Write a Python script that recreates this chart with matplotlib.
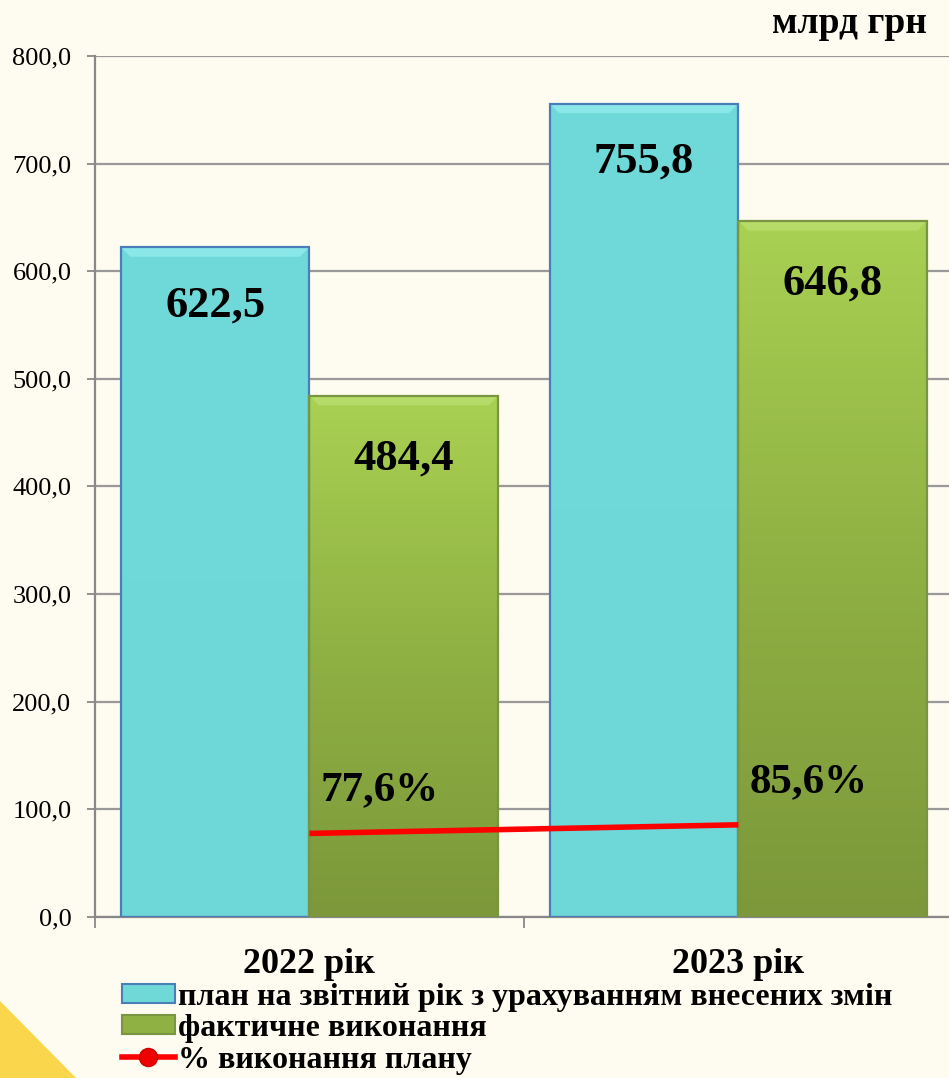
import numpy as np
import matplotlib.pyplot as plt
from matplotlib.patches import Polygon, Rectangle
from matplotlib.lines import Line2D
from matplotlib.colors import LinearSegmentedColormap

# data
years = ['2022 рік', '2023 рік']
plan = [622.5, 755.8]
fact = [484.4, 646.8]
pct = [77.6, 85.6]
plan_labels = ['622,5', '755,8']
fact_labels = ['484,4', '646,8']
pct_labels = ['77,6%', '85,6%']
y_ticks = [0, 100, 200, 300, 400, 500, 600, 700, 800]
legend_labels = ['план на звітний рік з урахуванням внесених змін',
                 'фактичне виконання',
                 '% виконання плану']

bg = '#fefbf0'
plt.rcParams['font.family'] = ['Liberation Serif', 'DejaVu Serif']

fig = plt.figure(figsize=(9.49, 10.78), dpi=100, facecolor=bg)
ax = fig.add_axes([0.1001, 0.1494, 0.904, 0.7987], facecolor=bg)

x = np.arange(len(years))
w = 0.44

cyan_cmap = LinearSegmentedColormap.from_list('c', ['#6dd8d7', '#6fdad9'])
green_cmap = LinearSegmentedColormap.from_list('g', ['#7c983a', '#8fb043', '#a9d152'])


def draw_bars(xs, vals, cmap, edge, bevel):
    bars = ax.bar(xs, vals, w, color='none', edgecolor=edge, linewidth=1.6, zorder=3)
    for b in bars:
        x0, y0 = b.get_x(), b.get_y()
        bw, bh = b.get_width(), b.get_height()
        grad = np.linspace(0, 1, 256).reshape(-1, 1)
        im = ax.imshow(grad, cmap=cmap, origin='lower', aspect='auto',
                       extent=[x0, x0 + bw, y0, y0 + bh], zorder=2)
        clip = Rectangle((x0, y0), bw, bh, transform=ax.transData)
        im.set_clip_path(clip)
        # top bevel
        dx, dy = 0.022, 9.0
        ax.add_patch(Polygon([(x0, bh), (x0 + bw, bh), (x0 + bw - dx, bh - dy), (x0 + dx, bh - dy)],
                             closed=True, facecolor=bevel, edgecolor='none', alpha=0.6, zorder=2.5))
    return bars


draw_bars(x - w / 2, plan, cyan_cmap, '#4a7ebb', '#9ff3f3')
draw_bars(x + w / 2, fact, green_cmap, '#7a953f', '#c2e478')

ax.plot(x, pct, color='#ff0000', lw=4, zorder=4, solid_capstyle='butt')

for i in range(len(years)):
    ax.annotate(plan_labels[i], (x[i] - w / 2, plan[i]), xytext=(0, -42), textcoords='offset points',
                ha='center', va='center', fontsize=32, fontweight='bold', zorder=5)
    ax.annotate(fact_labels[i], (x[i] + w / 2, fact[i]), xytext=(0, -45), textcoords='offset points',
                ha='center', va='center', fontsize=32, fontweight='bold', zorder=5)
    ax.annotate(pct_labels[i], (x[i], pct[i]), xytext=(8, 31), textcoords='offset points',
                ha='left', va='center', fontsize=31, fontweight='bold', zorder=5)

ax.set_xlim(-0.5, 1.5)
ax.set_ylim(0, 800)
ax.set_yticks(y_ticks)
ax.set_yticklabels([f'{v:.1f}'.replace('.', ',') for v in y_ticks], fontsize=19)
ax.yaxis.grid(True, color='#999999', lw=1.6, zorder=0)
ax.set_axisbelow(True)
ax.tick_params(axis='y', length=6, width=1.3, color='#888888', pad=11)

ax.set_xticks(x)
ax.set_xticklabels(years, fontsize=26, fontweight='bold')
ax.set_xticks([-0.5, 0.5, 1.5], minor=True)
ax.tick_params(axis='x', which='major', length=0, pad=22)
ax.tick_params(axis='x', which='minor', length=8, width=1.3, color='#888888', direction='out')

for s in ['top', 'right']:
    ax.spines[s].set_visible(False)
for s in ['left', 'bottom']:
    ax.spines[s].set_color('#888888')
    ax.spines[s].set_linewidth(1.6)

fig.text(0.977, 0.978, 'млрд грн', ha='right', va='center', fontsize=27, fontweight='bold')

# legend
handles = [Rectangle((0, 0), 1, 1, facecolor='#6fd9d8', edgecolor='#4a7ebb', lw=1.5),
           Rectangle((0, 0), 1, 1, facecolor='#8fb043', edgecolor='#7a953f', lw=1.5),
           Line2D([], [], color='#ff0000', lw=4, marker='o', markersize=13,
                  markerfacecolor='#ee0000', markeredgecolor='#cc0000')]
fig.legend(handles, legend_labels, loc='upper left', bbox_to_anchor=(0.1286, 0.0885),
           frameon=False, prop={'size': 23, 'weight': 'bold'}, handlelength=1.65,
           handleheight=0.55, handletextpad=0.1, labelspacing=0.08, borderpad=0, borderaxespad=0)

# yellow corner
fig.patches.append(Polygon([(0, 0), (76 / 949, 0), (0, 77 / 1078)], closed=True,
                           transform=fig.transFigure, facecolor='#f9d64c', edgecolor='none'))

fig.savefig('out.png', dpi=100, facecolor=bg)
